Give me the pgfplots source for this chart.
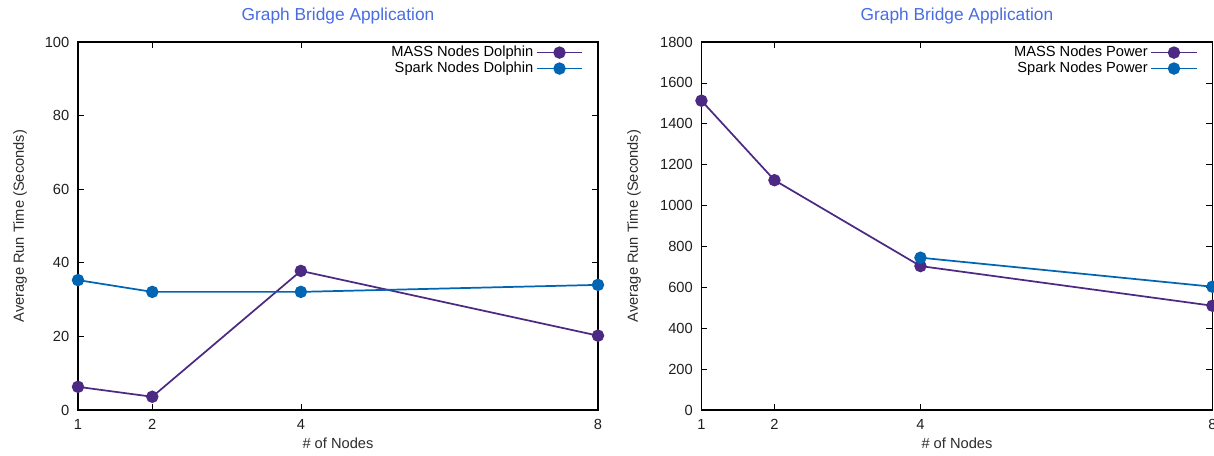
\documentclass[border=0pt]{standalone}
\usepackage{fontspec}
\setmainfont{Liberation Sans}
\usepackage{pgfplots}
\pgfplotsset{compat=1.18}
\definecolor{mass}{RGB}{76,42,132}
\definecolor{spark}{RGB}{0,101,178}
\definecolor{ttl}{RGB}{72,108,226}
\definecolor{lbl}{RGB}{45,45,45}

\pgfplotsset{
 gp/.style={
  scale only axis, height=276pt, xmin=1, xmax=8, ymin=0, xtick={1,2,4,8},
  tick align=inside, major tick length=4.5pt,
  tick style={black, line width=0.5pt},
  axis line style={black, line width=0.8pt},
  /pgf/number format/assume math mode=true,
  /pgf/number format/1000 sep={},
  ticklabel style={font=\fontsize{11}{13}\selectfont, color=black!88},
  xticklabel style={yshift=-3.5pt},
  yticklabel style={xshift=-3pt},
  xlabel style={font=\fontsize{11}{13}\selectfont, color=lbl, at={(axis description cs:0.5,0)}, anchor=center, yshift=-24.75pt},
  title style={font=\fontsize{13}{15}\selectfont, color=ttl, at={(axis description cs:0.5,1)}, anchor=center, yshift=13.5pt},
  clip=false,
  legend style={draw=none, fill=none, font=\fontsize{11}{13}\selectfont, at={(1,1)}, anchor=north east, xshift=-10pt, yshift=0pt, inner sep=1pt, row sep=-1.5pt},
  legend plot pos=right, legend cell align=right,
  legend image code/.code={\draw[mark repeat=2,mark phase=2] plot coordinates {(0pt,0pt)(17pt,0pt)(34pt,0pt)};},
 },
 mline/.style={color=mass, line width=1.3pt, mark=*, mark size=4pt, mark options={solid, fill=mass}},
 sline/.style={color=spark, line width=1.3pt, mark=*, mark size=4pt, mark options={solid, fill=spark}},
}

\begin{document}
\begin{tikzpicture}
\begin{axis}[gp, width=390pt, ymax=100, ytick={0,20,40,60,80,100},
  title={Graph Bridge Application},
  xlabel={\# of Nodes}, ylabel={Average Run Time (Seconds)},
  ylabel style={font=\fontsize{11}{13}\selectfont, color=lbl, at={(axis description cs:-0.1115,0.5)}, anchor=center}]
\addplot[mline] coordinates {(1,6.3) (2,3.6) (4,37.8) (8,20.2)};
\addlegendentry{MASS Nodes Dolphin}
\addplot[sline] coordinates {(1,35.3) (2,32.1) (4,32.1) (8,34.0)};
\addlegendentry{Spark Nodes Dolphin}
\end{axis}
\begin{axis}[gp, at={(467.6pt,0pt)}, width=383.25pt, ymax=1800, ytick={0,200,...,1800},
  title={Graph Bridge Application},
  xlabel={\# of Nodes}, ylabel={Average Run Time (Seconds)},
  ylabel style={font=\fontsize{11}{13}\selectfont, color=lbl, at={(axis description cs:-0.132,0.5)}, anchor=center}]
\addplot[mline] coordinates {(1,1513) (2,1124) (4,704) (8,510)};
\addlegendentry{MASS Nodes Power}
\addplot[sline] coordinates {(4,745) (8,603)};
\addlegendentry{Spark Nodes Power}
\end{axis}
\pgfresetboundingbox
\useasboundingbox (-58.5pt,-33.75pt) rectangle (852pt,307.5pt);
\end{tikzpicture}
\end{document}
